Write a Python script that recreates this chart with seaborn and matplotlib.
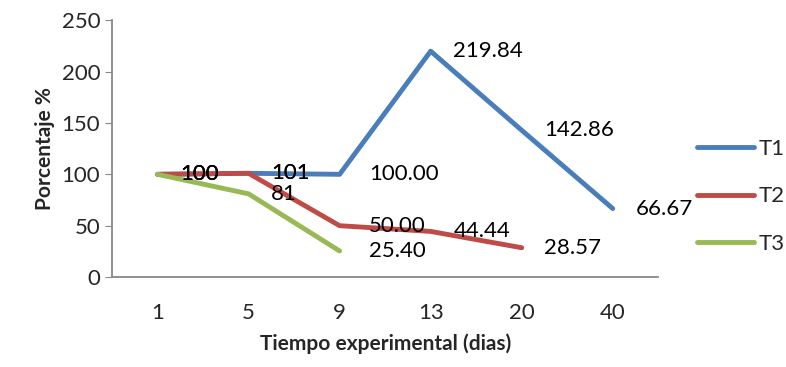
import numpy as np
import pandas as pd
import matplotlib
matplotlib.use('Agg')
import matplotlib.pyplot as plt
import seaborn as sns

dias = ['1', '5', '9', '13', '20', '40']
t1 = [100, 101, 100, 219.84, 142.86, 66.67]
t2 = [100, 101, 50, 44.44, 28.57, np.nan]
t3 = [100, 81, 25.40, np.nan, np.nan, np.nan]
t1_lbl = ['100', '101', '100.00', '219.84', '142.86', '66.67']
t2_lbl = ['100', '101', '50.00', '44.44', '28.57', '']
t3_lbl = ['100', '81', '25.40', '', '', '']

sns.set_style('white')
plt.rcParams['font.family'] = ['Lato', 'DejaVu Sans']

#long format, x as category position
df = pd.DataFrame({'pos': list(range(len(dias))) * 3,
                   'valor': t1 + t2 + t3,
                   'serie': ['T1'] * 6 + ['T2'] * 6 + ['T3'] * 6})
df = df.dropna()

colores = {'T1': '#4A7EBB', 'T2': '#BE4B48', 'T3': '#98B954'}

fig = plt.figure(figsize=(7.86, 3.67), dpi=100)
ax = fig.add_axes([0.1425, 0.245, 0.695, 0.7])
sns.lineplot(data=df, x='pos', y='valor', hue='serie', palette=colores,
             linewidth=3.5, sort=False, ax=ax, solid_capstyle='round')

for vals, lbls in [(t1, t1_lbl), (t2, t2_lbl), (t3, t3_lbl)]:
    for i, (v, l) in enumerate(zip(vals, lbls)):
        if l == '' or np.isnan(v):
            continue
        dx = 0.32 if i == 2 else 0.25
        ax.text(i + dx, v, l, fontsize=16, va='center', ha='left', color='black')

ax.set_xlim(-0.5, 5.5)
ax.set_ylim(0, 250)
ax.set_yticks([0, 50, 100, 150, 200, 250])
ax.set_xticks(range(len(dias)))
ax.set_xticklabels(dias)
ax.tick_params(axis='y', labelsize=16, length=5, color='#888888', direction='out', left=True)
ax.tick_params(axis='x', labelsize=16, length=0, pad=19)
for s in ['top', 'right']:
    ax.spines[s].set_visible(False)
for s in ['left', 'bottom']:
    ax.spines[s].set_color('#888888')
    ax.spines[s].set_linewidth(1.3)

ax.set_ylabel('Porcentaje %', fontsize=15, fontweight='bold', labelpad=5)
ax.set_xlabel('Tiempo experimental (dias)', fontsize=15, fontweight='bold', labelpad=7)

leg = ax.legend(loc='center left', bbox_to_anchor=(0.875, 0.465), bbox_transform=fig.transFigure,
                frameon=False, fontsize=16, handlelength=2.6, handletextpad=0.2,
                labelspacing=1.25, borderaxespad=0)
for h in leg.get_lines():
    h.set_solid_capstyle('round')
    h.set_linewidth(3.5)

plt.savefig('out.png', dpi=100)
